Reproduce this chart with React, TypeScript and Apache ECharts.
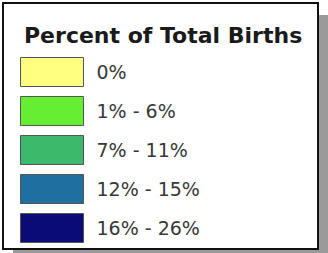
import React, { useEffect, useRef } from "react";
import * as echarts from "echarts";

const titleText = "Percent of Total Births";
const classLabels = ["0%", "1% - 6%", "7% - 11%", "12% - 15%", "16% - 26%"];
const classColors = ["#ffff80", "#66ee33", "#3cb96a", "#1f6fa0", "#0b0b78"];

export default function App() {
  const ref = useRef<HTMLDivElement>(null);
  useEffect(() => {
    if (!ref.current) return;
    const chart = echarts.init(ref.current, null, { renderer: "svg" });
    chart.setOption({
      animation: false,
      backgroundColor: "#ffffff",
      title: {
        text: titleText,
        left: 19,
        top: 19,
        textStyle: {
          fontFamily: "DejaVu Sans",
          fontWeight: "bold",
          fontSize: 22,
          color: "#1a1a1a",
        },
      },
      graphic: [
        { type: "rect", z: -2, shape: { x: 13, y: 15, width: 315, height: 245 }, style: { fill: "#9a9a9a" } },
        { type: "rect", z: -1, shape: { x: 3, y: 3, width: 315, height: 246 }, style: { fill: "#ffffff", stroke: "#111111", lineWidth: 2 } },
      ],
      legend: {
        orient: "vertical",
        left: 20,
        top: 57,
        itemWidth: 63,
        itemHeight: 29,
        itemGap: 9,
        icon: "rect",
        padding: 0,
        selectedMode: false,
        itemStyle: { borderColor: "#555555", borderWidth: 1, opacity: 1 },
        textStyle: {
          fontFamily: "DejaVu Sans",
          fontSize: 19,
          color: "#383838",
          padding: [0, 0, 0, 8],
        },
        data: classLabels,
      },
      grid: { left: 0, right: 0, top: 0, bottom: 0, show: false },
      xAxis: { type: "value", show: false },
      yAxis: { type: "value", show: false },
      series: classLabels.map((name, i) => ({
        name,
        type: "scatter",
        data: [],
        itemStyle: { color: classColors[i], opacity: 1 },
      })),
    });
    return () => chart.dispose();
  }, []);
  return (
    <div
      ref={ref}
      style={{ position: "fixed", left: 0, top: 0, width: 328, height: 253 }}
    />
  );
}
